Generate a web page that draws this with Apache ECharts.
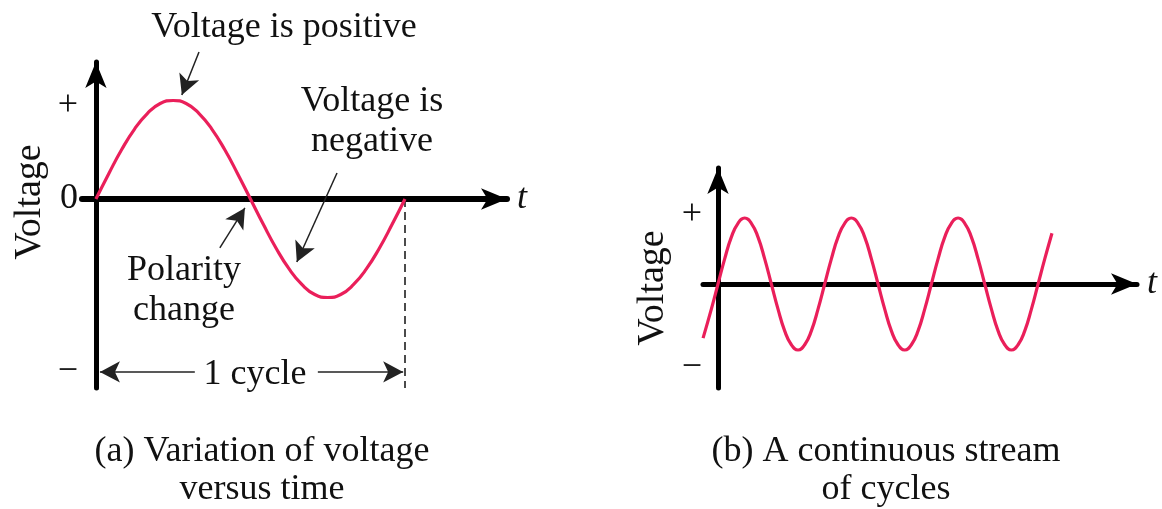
<!DOCTYPE html>
<html>
<head>
<meta charset="utf-8">
<script src="https://cdn.jsdelivr.net/npm/echarts@6/dist/echarts.min.js"></script>
<style>
  html, body { margin: 0; padding: 0; background: #fff; }
  #main { width: 1162px; height: 509px; }
</style>
</head>
<body>
<div id="main"></div>
<script>
// panel (a): one cycle, time in cycles, voltage in peak units
var cycleA = [0, 0.042, 0.083, 0.125, 0.167, 0.208, 0.25, 0.292, 0.333, 0.375, 0.417, 0.458, 0.5,
  0.542, 0.583, 0.625, 0.667, 0.708, 0.75, 0.792, 0.833, 0.875, 0.917, 0.958, 1];
var voltA = [0, 0.26, 0.5, 0.71, 0.87, 0.97, 1, 0.97, 0.87, 0.71, 0.5, 0.26, 0,
  -0.26, -0.5, -0.71, -0.87, -0.97, -1, -0.97, -0.87, -0.71, -0.5, -0.26, 0];

// panel (b): continuous stream of cycles
var cycleB = [-0.14, -0.0625, 0, 0.0625, 0.125, 0.1875, 0.25, 0.3125, 0.375, 0.4375, 0.5, 0.5625, 0.625, 0.6875, 0.75, 0.8125, 0.875, 0.9375, 1,
  1.0625, 1.125, 1.1875, 1.25, 1.3125, 1.375, 1.4375, 1.5, 1.5625, 1.625, 1.6875, 1.75, 1.8125, 1.875, 1.9375, 2,
  2.0625, 2.125, 2.1875, 2.25, 2.3125, 2.375, 2.4375, 2.5, 2.5625, 2.625, 2.6875, 2.75, 2.8125, 2.875, 2.9375, 3,
  3.0625, 3.13];
var voltB = [-0.82, -0.38, 0, 0.38, 0.71, 0.92, 1, 0.92, 0.71, 0.38, 0, -0.38, -0.71, -0.92, -1, -0.92, -0.71, -0.38, 0,
  0.38, 0.71, 0.92, 1, 0.92, 0.71, 0.38, 0, -0.38, -0.71, -0.92, -1, -0.92, -0.71, -0.38, 0,
  0.38, 0.71, 0.92, 1, 0.92, 0.71, 0.38, 0, -0.38, -0.71, -0.92, -1, -0.92, -0.71, -0.38, 0,
  0.38, 0.77];

// tick labels on the voltage axes
var tickValsA = [-1.75, 0, 0.945];
var tickTextA = ['\u2212', '0', '+'];
var tickValsB = [-1.26, 1.06];
var tickTextB = ['\u2212', '+'];

var serif = 'Liberation Serif';
var ink = '#111';
var waveColor = '#EA1F5A';

function pairs(xs, ys) {
  return xs.map(function (x, i) { return [x, ys[i]]; });
}
function tickFormatter(vals, texts) {
  return function (v) {
    var best = 0;
    for (var i = 1; i < vals.length; i++) {
      if (Math.abs(vals[i] - v) < Math.abs(vals[best] - v)) best = i;
    }
    return texts[best];
  };
}

var chart = echarts.init(document.getElementById('main'), null, { renderer: 'canvas' });

var axisArrow = ['none', 'arrow'];
var arrowSize = [16, 26];
var textStyle = { fontFamily: serif, fontSize: 36, color: ink };
var tStyle = { fontFamily: serif, fontSize: 36, fontStyle: 'italic', color: ink };

var option = {
  backgroundColor: '#fff',
  animation: false,
  grid: [
    { left: 82, top: 62, width: 425, height: 326, outerBoundsMode: 'none' },
    { left: 703, top: 168, width: 434, height: 220, outerBoundsMode: 'none' }
  ],
  xAxis: [{
    type: 'value', gridIndex: 0, min: -0.045, max: 1.33,
    axisLine: { show: true, onZero: true, symbol: axisArrow, symbolSize: arrowSize, lineStyle: { color: '#000', width: 6 } },
    axisTick: { show: false }, axisLabel: { show: false }, splitLine: { show: false },
    name: 't', nameLocation: 'end', nameGap: 10, nameTextStyle: tStyle
  }, {
    type: 'value', gridIndex: 1, min: -0.1406, max: 3.927,
    axisLine: { show: true, onZero: true, symbol: axisArrow, symbolSize: arrowSize, lineStyle: { color: '#000', width: 5 } },
    axisTick: { show: false }, axisLabel: { show: false }, splitLine: { show: false },
    name: 't', nameLocation: 'end', nameGap: 10, nameTextStyle: tStyle
  }],
  yAxis: [{
    type: 'value', gridIndex: 0, min: -1.919, max: 1.391,
    axisLine: { show: true, onZero: true, symbol: axisArrow, symbolSize: arrowSize, lineStyle: { color: '#000', width: 5 } },
    axisTick: { show: false }, splitLine: { show: false },
    axisLabel: Object.assign({ customValues: tickValsA, formatter: tickFormatter(tickValsA, tickTextA), margin: 4 }, textStyle),
    name: 'Voltage', nameLocation: 'middle', nameRotate: 90, nameGap: 33,
    nameTextStyle: { fontFamily: serif, fontSize: 38, color: ink, padding: [0, 0, 0, 46] }
  }, {
    type: 'value', gridIndex: 1, min: -1.576, max: 1.758,
    axisLine: { show: true, onZero: true, symbol: axisArrow, symbolSize: arrowSize, lineStyle: { color: '#000', width: 5 } },
    axisTick: { show: false }, splitLine: { show: false },
    axisLabel: Object.assign({ customValues: tickValsB, formatter: tickFormatter(tickValsB, tickTextB), margin: 1 }, textStyle),
    name: 'Voltage', nameLocation: 'middle', nameRotate: 90, nameGap: 31,
    nameTextStyle: { fontFamily: serif, fontSize: 38, color: ink, padding: [0, 20, 0, 0] }
  }],
  series: [{
    type: 'line', xAxisIndex: 0, yAxisIndex: 0,
    data: pairs(cycleA, voltA),
    smooth: true, showSymbol: false, clip: false, z: 5,
    lineStyle: { color: waveColor, width: 3.2 },
    markLine: {
      silent: true, animation: false,
      symbol: ['none', 'arrow'], symbolSize: [16, 20],
      label: { show: false },
      lineStyle: { color: '#222', width: 1.5, type: 'solid' },
      data: [
        [{ x: 199, y: 52 }, { coord: [0.278, 1.056] }],
        [{ coord: [0.780, 0.264] }, { coord: [0.650, -0.640] }],
        [{ coord: [0.401, -0.497] }, { coord: [0.482, -0.091] }],
        [{ coord: [0.320, -1.756] }, { coord: [0.013, -1.756] }],
        [{ coord: [0.718, -1.756] }, { coord: [0.994, -1.756] }],
        [{ coord: [1, 0], symbol: 'none', lineStyle: { type: [8, 5], width: 1.5, color: '#111' } },
         { coord: [1, -1.919], symbol: 'none' }]
      ]
    }
  }, {
    type: 'line', xAxisIndex: 1, yAxisIndex: 1,
    data: pairs(cycleB, voltB),
    smooth: true, showSymbol: false, clip: false, z: 5,
    lineStyle: { color: waveColor, width: 3.2 }
  }],
  graphic: [
    { type: 'text', x: 284, y: 28, style: { text: 'Voltage is positive', align: 'center', verticalAlign: 'middle', fontFamily: serif, fontSize: 36, fill: ink } },
    { type: 'text', x: 372, y: 122, style: { text: 'Voltage is\nnegative', align: 'center', verticalAlign: 'middle', lineHeight: 40, fontFamily: serif, fontSize: 36, fill: ink } },
    { type: 'text', x: 184, y: 291, style: { text: 'Polarity\nchange', align: 'center', verticalAlign: 'middle', lineHeight: 40, fontFamily: serif, fontSize: 36, fill: ink } },
    { type: 'text', x: 255, y: 375, style: { text: '1 cycle', align: 'center', verticalAlign: 'middle', fontFamily: serif, fontSize: 36, fill: ink } },
    { type: 'text', x: 262, y: 471, style: { text: '(a) Variation of voltage\nversus time', align: 'center', verticalAlign: 'middle', lineHeight: 38, fontFamily: serif, fontSize: 36, fill: ink } },
    { type: 'text', x: 886, y: 471, style: { text: '(b) A continuous stream\nof cycles', align: 'center', verticalAlign: 'middle', lineHeight: 38, fontFamily: serif, fontSize: 36, fill: ink } }
  ]
};

chart.setOption(option);
</script>
</body>
</html>
